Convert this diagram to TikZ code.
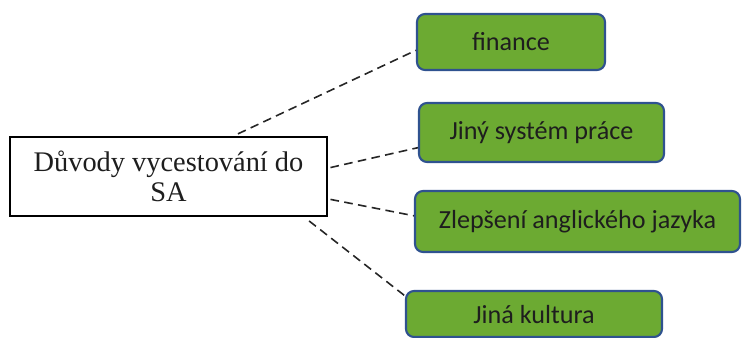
\documentclass[tikz,border=0pt]{standalone}
\usepackage{fontspec}
\setmainfont{Liberation Serif}
\newfontfamily\calibri{Carlito}
\usepackage{tikz}
\definecolor{zelena}{RGB}{108,170,50}
\definecolor{modra}{RGB}{47,82,143}
\definecolor{textcol}{RGB}{30,30,30}

\begin{document}
\begin{tikzpicture}[x=0.75pt,y=-0.75pt,
	mainbox/.style={rectangle,draw=black,line width=1.3pt,fill=white,align=center,
		minimum width=237.75pt,minimum height=59.25pt,inner sep=0pt,
		text=textcol,font=\fontsize{21.3}{22.5}\selectfont},
	reason/.style={rectangle,rounded corners=6pt,draw=modra,line width=1.6pt,fill=zelena,
		inner sep=0pt,text=textcol,font=\calibri\fontsize{19.6}{23}\selectfont},
	link/.style={dash pattern=on 6.5pt off 4pt,line width=1.2pt,black!85},
	]
	\useasboundingbox (0,0) rectangle (742,338);
	\node[mainbox] (duvody) at (168.5,176.5) {Důvody vycestování do\\SA};
	\node[reason,minimum width=141pt,minimum height=42pt] (finance) at (511,42) {finance};
	\node[reason,minimum width=183.75pt,minimum height=44.25pt] (system) at (541.5,132.5) {Jiný systém práce};
	\node[reason,minimum width=243.75pt,minimum height=45.75pt] (jazyk) at (577.5,221.5) {Zlepšení anglického jazyka};
	\node[reason,minimum width=192pt,minimum height=34.5pt,text depth=-3pt] (kultura) at (534,314) {Jiná kultura};
	\draw[link,shorten <=4pt] (duvody.32) -- (finance.185);
	\draw[link,shorten <=2pt] (duvody.3) -- (system.187);
	\draw[link,shorten <=2pt] (duvody.-8) -- (jazyk.178);
	\draw[link,shorten <=5pt] ([xshift=-18pt]duvody.south east) -- (kultura.172);
\end{tikzpicture}
\end{document}
